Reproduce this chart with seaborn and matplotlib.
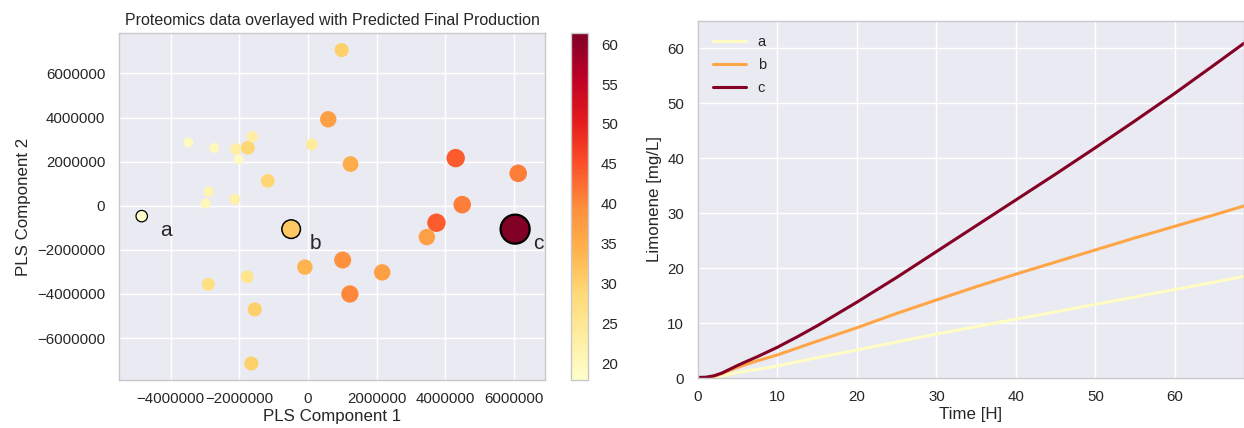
import numpy as np
import pandas as pd
import matplotlib
matplotlib.use("Agg")
import matplotlib.pyplot as plt
import seaborn as sns

# PLS scores of the proteomics samples and their predicted final production
pls1 = [0.98e6, 0.59e6, -3.48e6, -2.73e6, -2.10e6, -1.75e6, -1.62e6, -2.02e6,
        0.11e6, 1.24e6, -1.17e6, -2.89e6, -2.98e6, -2.13e6, -4.84e6, -0.49e6,
        6.03e6, 4.30e6, 6.12e6, 4.49e6, 3.74e6, 3.46e6, 1.01e6, -0.09e6,
        2.16e6, 1.22e6, -2.90e6, -1.77e6, -1.55e6, -1.65e6]
pls2 = [7.06e6, 3.92e6, 2.87e6, 2.62e6, 2.57e6, 2.63e6, 3.13e6, 2.10e6,
        2.78e6, 1.89e6, 1.13e6, 0.64e6, 0.11e6, 0.29e6, -0.47e6, -1.06e6,
        -1.06e6, 2.16e6, 1.47e6, 0.05e6, -0.77e6, -1.42e6, -2.46e6, -2.78e6,
        -3.02e6, -4.00e6, -3.56e6, -3.22e6, -4.70e6, -7.15e6]
production = [30, 37, 19.5, 20, 23, 29, 23, 19.5,
              24, 35, 29, 21, 20.5, 22, 17.9, 31,
              61.4, 44, 41, 41, 44, 37, 39, 34,
              37, 40, 27, 26, 30, 30]
strains = ['a', 'b', 'c']
strain_idx = [14, 15, 16]

# predicted limonene time courses for the three highlighted strains
time_h = [0, 1, 2, 3, 4, 5, 6, 7.5, 10, 12.5, 15, 20, 25, 30, 35, 40, 45, 50, 55, 60, 65, 68.7]
limonene_a = [0, 0.02, 0.15, 0.4, 0.7, 1.0, 1.25, 1.6, 2.2, 2.95, 3.7, 5.1, 6.55, 8.0,
              9.35, 10.7, 12.05, 13.4, 14.75, 16.1, 17.45, 18.5]
limonene_b = [0, 0.05, 0.3, 0.8, 1.4, 1.95, 2.45, 3.15, 4.2, 5.45, 6.7, 9.15, 11.75, 14.2,
              16.6, 18.9, 21.1, 23.3, 25.5, 27.6, 29.7, 31.3]
limonene_c = [0.1, 0.15, 0.4, 0.9, 1.6, 2.3, 2.95, 3.9, 5.6, 7.5, 9.5, 13.8, 18.3, 23.0,
              27.7, 32.4, 37.1, 41.9, 46.8, 51.8, 57.0, 60.9]

sns.set_theme(style="darkgrid", rc={"axes.edgecolor": "#c8c8c8", "axes.linewidth": 1.0})
plt.rcParams['font.family'] = ['Liberation Sans', 'DejaVu Sans']
plt.rcParams['xtick.major.pad'] = 2.5
plt.rcParams['ytick.major.pad'] = 4

df = pd.DataFrame({'pls1': pls1, 'pls2': pls2, 'prod': production})
vmin, vmax = min(production), max(production)
cmap = plt.get_cmap('YlOrRd')
norm = plt.Normalize(vmin, vmax)

fig = plt.figure(figsize=(12.44, 4.28), dpi=100)
ax1 = fig.add_axes([0.0957, 0.1121, 0.3424, 0.8107])
cax = fig.add_axes([0.4588, 0.1121, 0.0142, 0.8107])
ax2 = fig.add_axes([0.5611, 0.1168, 0.4389, 0.8348])

# 1. scatter of PLS scores
sns.scatterplot(data=df, x='pls1', y='pls2', hue='prod', size='prod',
                palette='YlOrRd', hue_norm=(vmin, vmax), size_norm=(vmin, vmax),
                sizes=(41, 265), linewidth=0, legend=False, ax=ax1, zorder=3)

hl = df.iloc[strain_idx]
hl_sizes = 1.65 * (41 + (hl['prod'] - vmin) / (vmax - vmin) * (265 - 41))
ax1.scatter(hl['pls1'], hl['pls2'], s=hl_sizes, c=cmap(norm(hl['prod'])),
            edgecolors='black', linewidths=[0.9, 1.1, 1.6], zorder=4)
for lab, (_, row) in zip(strains, hl.iterrows()):
    ax1.annotate(lab, (row['pls1'], row['pls2']), xytext=(13, -14),
                 textcoords='offset points', fontsize=15, color='#262626', va='baseline')

ax1.set_xlim(-5.5e6, 6.9e6)
ax1.set_ylim(-7.9e6, 7.83e6)
ax1.set_xticks(np.arange(-4e6, 6e6 + 1, 2e6))
ax1.set_yticks(np.arange(-6e6, 6e6 + 1, 2e6))
ax1.ticklabel_format(style='plain')
ax1.tick_params(labelsize=10.8)
ax1.set_xlabel('PLS Component 1', fontsize=12.2, labelpad=2)
ax1.set_ylabel('PLS Component 2', fontsize=12.2)
ax1.set_title('Proteomics data overlayed with Predicted Final Production', fontsize=11.5)

sm = plt.cm.ScalarMappable(cmap=cmap, norm=norm)
cb = fig.colorbar(sm, cax=cax, ticks=np.arange(20, 61, 5))
cb.outline.set_edgecolor('#c8c8c8')
cb.ax.tick_params(labelsize=10.8, length=0, pad=9)

# 2. limonene time courses
lines = pd.DataFrame({
    'time': time_h * 3,
    'limonene': limonene_a + limonene_b + limonene_c,
    'strain': ['a'] * len(time_h) + ['b'] * len(time_h) + ['c'] * len(time_h),
})
line_colors = {'a': cmap(norm(19)), 'b': cmap(norm(36)), 'c': cmap(norm(61))}
sns.lineplot(data=lines, x='time', y='limonene', hue='strain', palette=line_colors,
             linewidth=2.2, ax=ax2)
ax2.set_xlim(0, 68.7)
ax2.set_ylim(0, 65)
ax2.set_xticks(np.arange(0, 61, 10))
ax2.set_yticks(np.arange(0, 61, 10))
ax2.tick_params(labelsize=10.8)
ax2.set_xlabel('Time [H]', fontsize=12.2, labelpad=2)
ax2.set_ylabel('Limonene [mg/L]', fontsize=12.2)
ax2.legend(title=None, loc='upper left', frameon=False, fontsize=10.5,
           handlelength=2.3, labelspacing=0.6, borderaxespad=0.6)

fig.savefig('out.png', dpi=100)
